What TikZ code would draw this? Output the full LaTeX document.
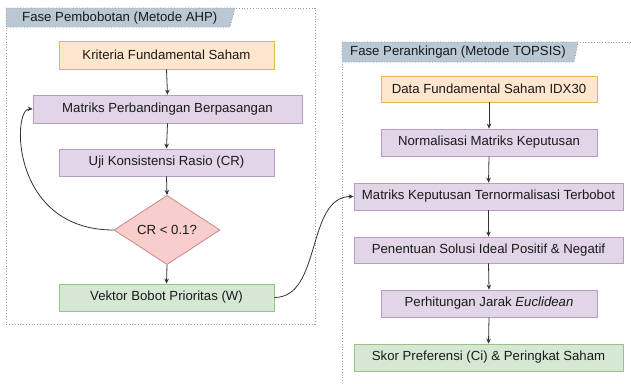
\documentclass[tikz,border=0pt]{standalone}
\usepackage{fontspec}
\setmainfont{Liberation Sans}
\usetikzlibrary{shapes.geometric,arrows.meta}
\definecolor{txt}{HTML}{1A1A1A}
\definecolor{pfill}{HTML}{E1D5E7}\definecolor{pdraw}{HTML}{9673A6}
\definecolor{ofill}{HTML}{FFE6CC}\definecolor{odraw}{HTML}{D79B00}
\definecolor{gfill}{HTML}{D5E8D4}\definecolor{gdraw}{HTML}{82B366}
\definecolor{rfill}{HTML}{F8CECC}\definecolor{rdraw}{HTML}{B85450}
\definecolor{tabfill}{HTML}{BAC8D3}\definecolor{tabdraw}{HTML}{7F93A6}
\definecolor{cont}{HTML}{8FA3B5}
\definecolor{edge}{HTML}{333333}
\tikzset{
  box/.style={draw, line width=0.8pt, inner sep=0pt, text=txt, font=\fontsize{13.2}{15}\selectfont},
  purplebox/.style={box, fill=pfill, draw=pdraw!70},
  orangebox/.style={box, fill=ofill, draw=odraw!70},
  greenbox/.style={box, fill=gfill, draw=gdraw!80},
  decision/.style={box, diamond, fill=rfill, draw=rdraw!70, minimum width=106pt, minimum height=54pt},
  container/.style={draw=cont, line width=0.8pt, dotted},
  tab/.style={fill=tabfill, draw=tabdraw, line width=0.8pt, dotted},
  tabtext/.style={text=txt, font=\fontsize{13.2}{15}\selectfont, anchor=west, inner sep=0pt},
  flow/.style={draw=edge, line width=0.8pt, -{Stealth[length=5pt,width=4.5pt]}}
}
\begin{document}
\begin{tikzpicture}[x=1pt,y=-1pt]
\useasboundingbox (0,0) rectangle (631,383);
\fill[white] (0,0) rectangle (631,383);
% containers
\draw[container] (6,8) rectangle (315,324);
\draw[container] (631,42) -- (342,42) -- (342,383);
% tabs
\draw[tab] (6,8) -- (235,8) -- (230,27) -- (6,27) -- cycle;
\node[tabtext] (tabL) at (22,18) {Fase Pembobotan (Metode AHP)};
\draw[tab] (342,42) -- (578,42) -- (574,62) -- (342,62) -- cycle;
\node[tabtext] (tabR) at (350,52) {Fase Perankingan (Metode TOPSIS)};
% left flow
\node[orangebox, minimum width=215pt, minimum height=28pt] (k1) at (166.5,55) {Kriteria Fundamental Saham};
\node[purplebox, minimum width=269pt, minimum height=28pt] (k2) at (167.5,109) {Matriks Perbandingan Berpasangan};
\node[purplebox, minimum width=215pt, minimum height=27pt] (k3) at (166.5,162.5) {Uji Konsistensi Rasio (CR)};
\node[decision] (d) at (167,230) {CR < 0.1?};
\node[greenbox, minimum width=215pt, minimum height=27pt] (k5) at (166.5,297.5) {Vektor Bobot Prioritas (W)};
% right flow
\node[orangebox, minimum width=216pt, minimum height=26pt] (r1) at (489,89) {Data Fundamental Saham IDX30};
\node[purplebox, minimum width=216pt, minimum height=27pt] (r2) at (489,142.5) {Normalisasi Matriks Keputusan};
\node[purplebox, minimum width=269pt, minimum height=27pt] (r3) at (488.5,196.5) {Matriks Keputusan Ternormalisasi Terbobot};
\node[purplebox, minimum width=269pt, minimum height=26pt] (r4) at (488.5,250) {Penentuan Solusi Ideal Positif \& Negatif};
\node[purplebox, minimum width=216pt, minimum height=27pt] (r5) at (489,303.5) {Perhitungan Jarak \textit{Euclidean}};
\node[greenbox, minimum width=269pt, minimum height=27pt] (r6) at (488.5,357.5) {Skor Preferensi (Ci) \& Peringkat Saham};
% edges
\draw[flow] (k1.south) -- (k2.north);
\draw[flow] (k2.south) -- (k3.north);
\draw[flow] (k3.south) -- (d.north);
\draw[flow] (d.south) -- (k5.north);
\draw[flow] (d.west) .. controls (10,230) and (12,108) .. (k2.west);
\draw[flow] (k5.east) .. controls (322,297.5) and (306,196.5) .. (r3.west);
\draw[flow] (r1.south) -- (r2.north);
\draw[flow] (r2.south) -- (r3.north);
\draw[flow] (r3.south) -- (r4.north);
\draw[flow] (r4.south) -- (r5.north);
\draw[flow] (r5.south) -- (r6.north);
\end{tikzpicture}
\end{document}
